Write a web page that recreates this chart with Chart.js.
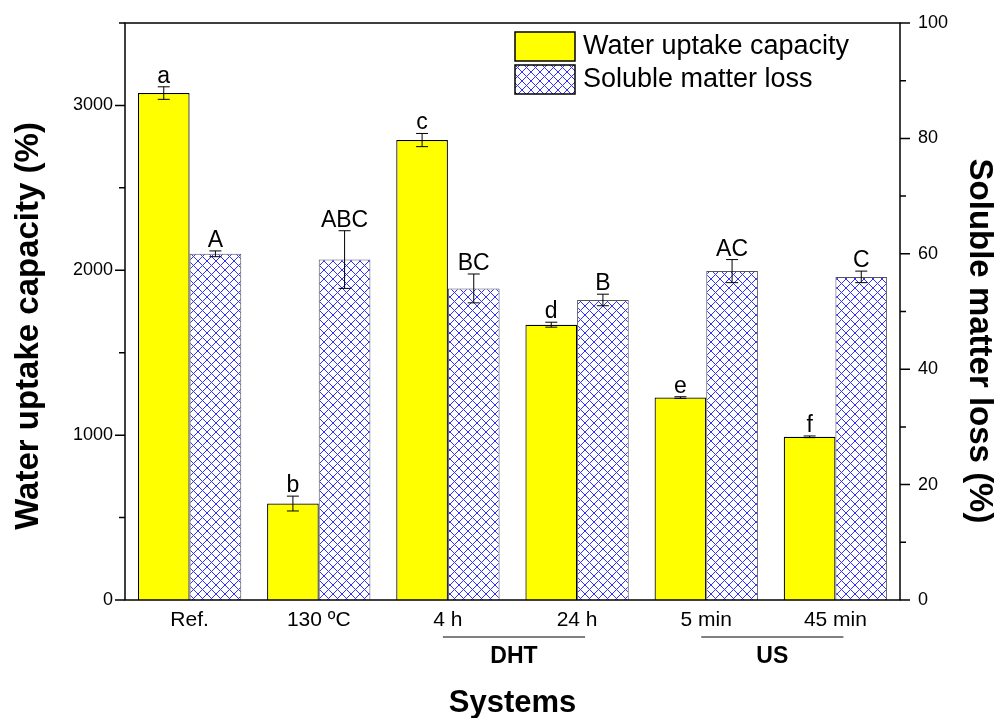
<!DOCTYPE html>
<html>
<head>
<meta charset="utf-8">
<script src="https://cdn.jsdelivr.net/npm/chart.js@4/dist/chart.umd.min.js"></script>
<style>
  html, body { margin: 0; padding: 0; background: #fff; }
  #wrap { width: 997px; height: 718px; }
</style>
</head>
<body>
<div id="wrap"><canvas id="c" width="997" height="718"></canvas></div>
<script>
const systems = ['Ref.', '130 ºC', '4 h', '24 h', '5 min', '45 min'];
const uptake = [3075, 585, 2790, 1670, 1228, 990];
const uptakeErr = [38, 45, 40, 15, 5, 5];
const uptakeLetters = ['a', 'b', 'c', 'd', 'e', 'f'];
const loss = [60, 59, 54, 52, 57, 56];
const lossErr = [0.5, 5, 2.5, 1, 2, 1];
const lossLetters = ['A', 'ABC', 'BC', 'B', 'AC', 'C'];
const groups = [{ name: 'DHT', from: 2, to: 3 }, { name: 'US', from: 4, to: 5 }];

const FONT = '"Liberation Sans", Arial, sans-serif';

function makeHatch() {
  const s = 9;
  const p = document.createElement('canvas');
  p.width = s; p.height = s;
  const g = p.getContext('2d');
  g.fillStyle = '#fff';
  g.fillRect(0, 0, s, s);
  g.strokeStyle = '#3030ff';
  g.lineWidth = 1;
  g.beginPath();
  g.moveTo(0, 0); g.lineTo(s, s);
  g.moveTo(0, s); g.lineTo(s, 0);
  g.stroke();
  return g.createPattern(p, 'repeat');
}

const ctx0 = document.getElementById('c').getContext('2d');
const hatch = makeHatch();

const bgPlugin = {
  id: 'bg',
  beforeDraw(chart) {
    const { ctx } = chart;
    ctx.save();
    ctx.fillStyle = '#fff';
    ctx.fillRect(0, 0, chart.width, chart.height);
    ctx.restore();
  },
};

// error bars + letters
const errPlugin = {
  id: 'errbars',
  afterDatasetsDraw(chart) {
    const { ctx } = chart;
    const errs = [uptakeErr, lossErr];
    const letters = [uptakeLetters, lossLetters];
    ctx.save();
    chart.data.datasets.forEach((ds, di) => {
      const meta = chart.getDatasetMeta(di);
      const ys = chart.scales[ds.yAxisID];
      meta.data.forEach((bar, i) => {
        const v = ds.data[i], e = errs[di][i];
        const top = ys.getPixelForValue(v + e);
        const bot = ys.getPixelForValue(v - e);
        ctx.strokeStyle = '#000';
        ctx.lineWidth = 1;
        ctx.beginPath();
        ctx.moveTo(bar.x, top); ctx.lineTo(bar.x, bot);
        ctx.moveTo(bar.x - 6, top); ctx.lineTo(bar.x + 6, top);
        ctx.moveTo(bar.x - 6, bot); ctx.lineTo(bar.x + 6, bot);
        ctx.stroke();
        ctx.fillStyle = '#000';
        ctx.font = '23px ' + FONT;
        ctx.textAlign = 'center';
        ctx.textBaseline = 'alphabetic';
        ctx.fillText(letters[di][i], bar.x, top - 4);
      });
    });
    ctx.restore();
  },
};

const framePlugin = {
  id: 'frame',
  afterDraw(chart) {
    const { ctx, chartArea: a } = chart;
    ctx.save();
    ctx.strokeStyle = '#000';
    ctx.lineWidth = 1.5;
    ctx.strokeRect(a.left, a.top, a.right - a.left, a.bottom - a.top);

    // axis ticks (major + minor)
    const y = chart.scales.y, y2 = chart.scales.y2;
    ctx.beginPath();
    for (let v = 0; v <= 3500; v += 500) {
      const py = y.getPixelForValue(v);
      const len = v % 1000 === 0 ? 10 : 6;
      ctx.moveTo(a.left, py); ctx.lineTo(a.left - len, py);
    }
    for (let v = 0; v <= 100; v += 10) {
      const py = y2.getPixelForValue(v);
      const len = v % 20 === 0 ? 10 : 6;
      ctx.moveTo(a.right, py); ctx.lineTo(a.right + len, py);
    }
    ctx.stroke();

    // group brackets under the x labels
    const x = chart.scales.x;
    ctx.lineWidth = 1;
    ctx.fillStyle = '#000';
    ctx.font = 'bold 23px ' + FONT;
    ctx.textAlign = 'center';
    ctx.textBaseline = 'middle';
    groups.forEach(g => {
      const x1 = x.getPixelForValue(g.from) - 5;
      const x2 = x.getPixelForValue(g.to) + 8;
      ctx.beginPath();
      ctx.moveTo(x1, 637); ctx.lineTo(x2, 637);
      ctx.stroke();
      ctx.fillText(g.name, (x1 + x2) / 2, 657);
    });

    // y axis titles
    ctx.font = 'bold 33px ' + FONT;
    ctx.save();
    ctx.translate(29, 326);
    ctx.rotate(-Math.PI / 2);
    ctx.fillText('Water uptake capacity (%)', 0, 0);
    ctx.restore();
    ctx.save();
    ctx.translate(979, 341);
    ctx.rotate(Math.PI / 2);
    ctx.fillText('Soluble matter loss (%)', 0, 0);
    ctx.restore();

    // legend
    const items = [
      { label: 'Water uptake capacity', fill: '#ffff00', y: 32 },
      { label: 'Soluble matter loss', fill: hatch, y: 65 },
    ];
    ctx.font = '27px ' + FONT;
    ctx.textAlign = 'left';
    items.forEach(it => {
      ctx.fillStyle = it.fill;
      ctx.fillRect(515, it.y, 60, 29);
      ctx.strokeStyle = '#000';
      ctx.lineWidth = 1.5;
      ctx.strokeRect(515, it.y, 60, 29);
      ctx.fillStyle = '#000';
      ctx.fillText(it.label, 583, it.y + 15);
    });
    ctx.restore();
  },
};

new Chart(ctx0, {
  type: 'bar',
  data: {
    labels: systems,
    datasets: [
      {
        label: 'Water uptake capacity',
        data: uptake,
        yAxisID: 'y',
        backgroundColor: '#ffff00',
        borderColor: '#000',
        borderWidth: 1.2,
        categoryPercentage: 0.8,
        barPercentage: 1.0,
      },
      {
        label: 'Soluble matter loss',
        data: loss,
        yAxisID: 'y2',
        backgroundColor: hatch,
        borderColor: '#555',
        borderWidth: 1,
        categoryPercentage: 0.8,
        barPercentage: 1.0,
      },
    ],
  },
  options: {
    responsive: false,
    animation: false,
    devicePixelRatio: 1,
    layout: { padding: { top: 23, left: 0, right: 0, bottom: 0 } },
    plugins: { legend: { display: false }, tooltip: { enabled: false } },
    scales: {
      x: {
        grid: { display: false, drawTicks: false },
        border: { display: false },
        ticks: { color: '#000', font: { family: FONT, size: 21 }, padding: 8, maxRotation: 0 },
        title: {
          display: true, text: 'Systems', color: '#000',
          font: { family: FONT, size: 31, weight: 'bold' },
          padding: { top: 0, bottom: -4 },
        },
        afterFit(s) { s.height = 118; },
      },
      y: {
        position: 'left',
        min: 0, max: 3500,
        grid: { display: false, drawTicks: false },
        border: { display: false },
        ticks: {
          stepSize: 500, color: '#000', padding: 12,
          font: { family: FONT, size: 18 },
          callback: v => (v % 1000 === 0 ? v : ''),
        },
        afterFit(s) { s.width = 125; s.paddingTop = 0; s.paddingBottom = 0; },
      },
      y2: {
        position: 'right',
        min: 0, max: 100,
        grid: { display: false, drawTicks: false },
        border: { display: false },
        ticks: {
          stepSize: 10, color: '#000', padding: 18,
          font: { family: FONT, size: 18 },
          callback: v => (v % 20 === 0 ? v : ''),
        },
        afterFit(s) { s.width = 97; s.paddingTop = 0; s.paddingBottom = 0; },
      },
    },
  },
  plugins: [bgPlugin, errPlugin, framePlugin],
});
</script>
</body>
</html>
